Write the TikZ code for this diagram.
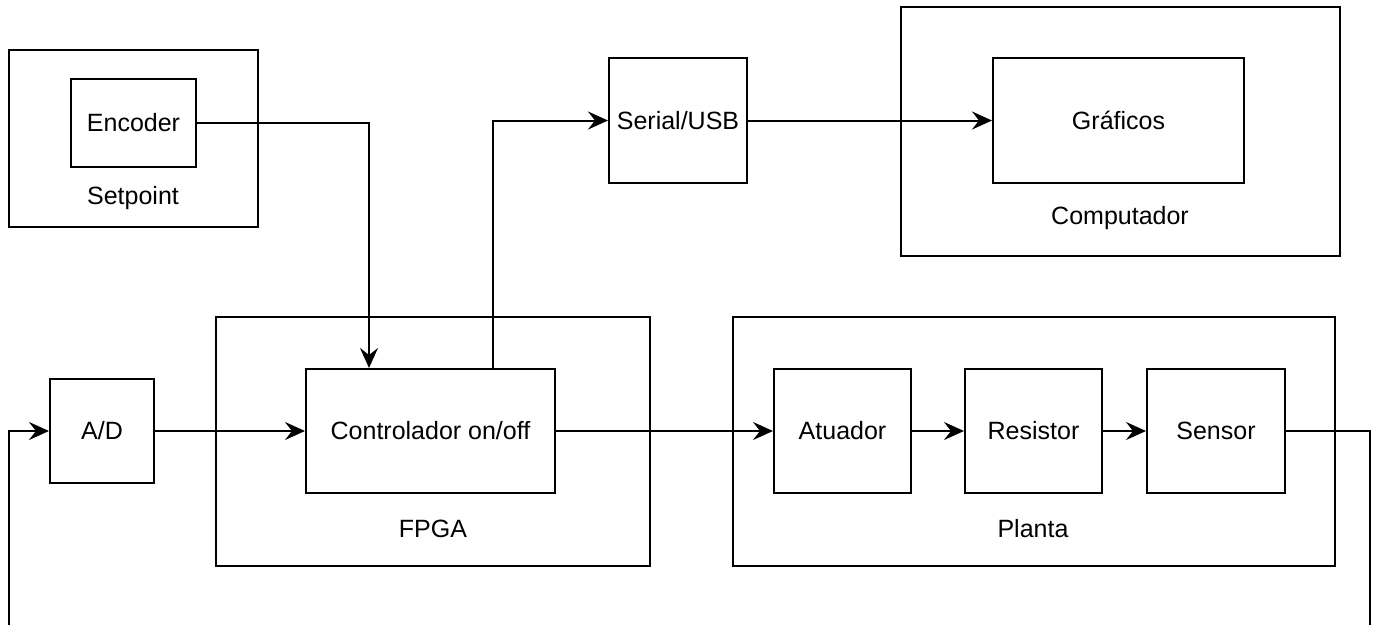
\documentclass[tikz,border=0pt]{standalone}
\usepackage{fontspec}
\setmainfont{Liberation Sans}
\usetikzlibrary{arrows.meta}
\begin{document}
\begin{tikzpicture}[x=1pt,y=-1pt,
  blk/.style={draw,line width=2pt,minimum width=#1,inner sep=0pt,font=\fontsize{25}{28}\selectfont},
  lbl/.style={font=\fontsize{25}{28}\selectfont,inner sep=0pt},
  conn/.style={line width=2pt,-{Stealth[length=20pt,width=18pt,inset=7pt]}},
  wire/.style={line width=2pt}]
\useasboundingbox (0,0) rectangle (1378,624);
% containers
\node[draw,line width=2pt,minimum width=249pt,minimum height=177pt,inner sep=0pt] (setc) at (133.5,138.5) {};
\node[draw,line width=2pt,minimum width=439pt,minimum height=249pt,inner sep=0pt] (compc) at (1120.5,131.5) {};
\node[draw,line width=2pt,minimum width=434pt,minimum height=249pt,inner sep=0pt] (fpgac) at (433,441.5) {};
\node[draw,line width=2pt,minimum width=602pt,minimum height=249pt,inner sep=0pt] (plantc) at (1033.5,441.5) {};
\node[lbl] (setl) at (133,198) {Setpoint};
\node[lbl] (compl) at (1120,218) {Computador};
\node[lbl] (fpgal) at (433,529) {FPGA};
\node[lbl] (plantl) at (1033,529) {Planta};
% blocks
\node[blk=125pt,minimum height=88pt] (enc) at (133.5,123) {Encoder};
\node[blk=138pt,minimum height=125pt] (ser) at (678,120.5) {Serial/USB};
\node[blk=251pt,minimum height=125pt] (gra) at (1118.5,120.5) {Gráficos};
\node[blk=104pt,minimum height=104pt] (ad) at (102,431) {A/D};
\node[blk=249pt,minimum height=124pt] (ctl) at (430.5,431) {Controlador on/off};
\node[blk=137pt,minimum height=124pt] (atu) at (842.5,431) {Atuador};
\node[blk=137pt,minimum height=124pt] (res) at (1033.5,431) {Resistor};
\node[blk=138pt,minimum height=124pt] (sen) at (1216,431) {Sensor};
% connectors
\coordinate (encc) at (369,123);
\draw[conn] (enc.east) -- (enc.east -| encc) -- (encc |- ctl.north);
\coordinate (upc) at (493,120.5);
\draw[conn] (upc |- ctl.north) -- (upc) -- (ser.west);
\draw[conn] (ser.east) -- (gra.west);
\draw[conn] (ad.east) -- (ctl.west);
\draw[conn] (ctl.east) -- (atu.west);
\draw[conn] (atu.east) -- (res.west);
\draw[conn] (res.east) -- (sen.west);
\coordinate (fbr) at (1370,640);
\coordinate (fbl) at (9,640);
\draw[conn] (sen.east) -- (sen.east -| fbr) -- (fbr) -- (fbl) -- (fbl |- ad.west) -- (ad.west);
\end{tikzpicture}
\end{document}
